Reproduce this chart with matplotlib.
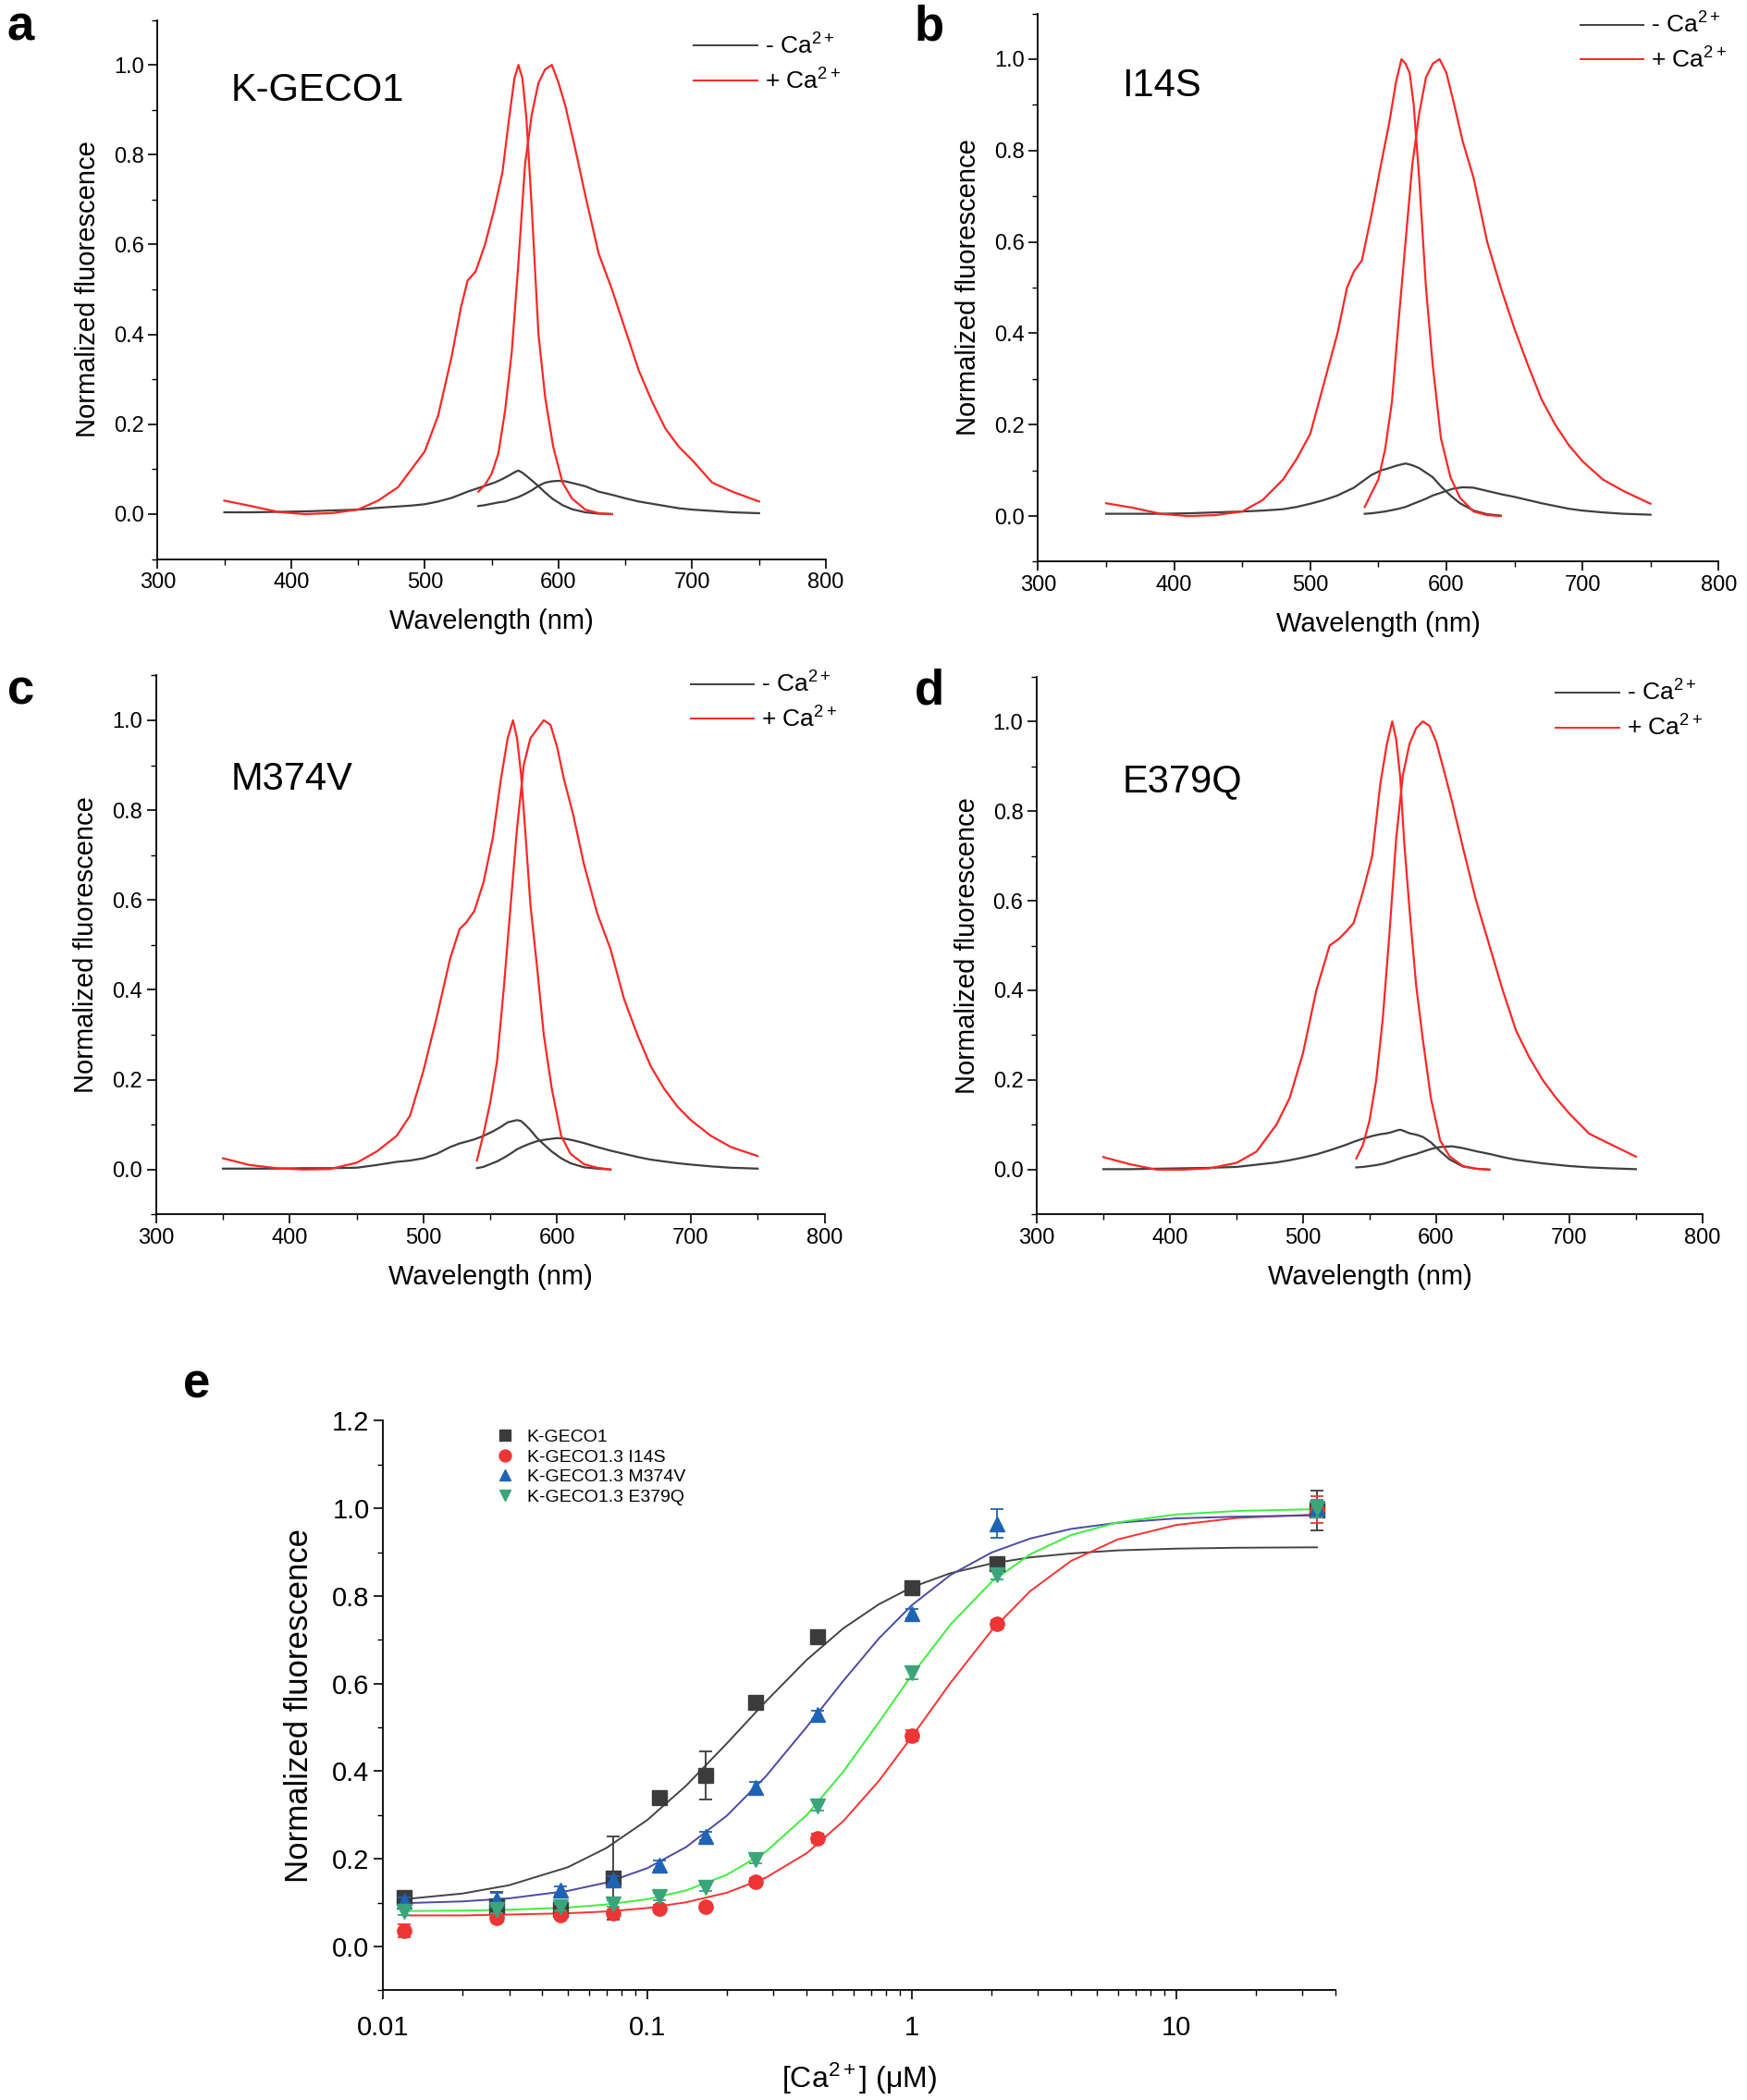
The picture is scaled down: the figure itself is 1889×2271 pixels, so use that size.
import matplotlib
matplotlib.use("Agg")
import matplotlib.pyplot as plt
from matplotlib.lines import Line2D
from matplotlib.ticker import MultipleLocator, LogLocator, NullFormatter, FixedLocator, FixedFormatter

plt.rcParams["font.family"] = ["Liberation Sans", "DejaVu Sans"]
plt.rcParams["mathtext.fontset"] = "custom"
plt.rcParams["mathtext.rm"] = "Liberation Sans"
plt.rcParams["mathtext.it"] = "Liberation Sans:italic"

# ---- spectra (a-d): excitation and emission scans ----
EX_NM = [350, 370, 390, 410, 430, 450, 465, 480, 490, 500, 510, 520, 527, 532, 538,
         545, 552, 558, 563, 567, 570, 573, 576, 580, 585, 590, 596, 603, 610, 620, 630, 640]
EM_NM = [540, 545, 550, 555, 560, 565, 570, 575, 580, 585, 590, 595, 600, 605, 612,
         620, 630, 640, 650, 660, 670, 680, 690, 700, 715, 730, 750]

# K-GECO1
a_red_ex = [0.03, 0.018, 0.005, 0.0, 0.002, 0.01, 0.03, 0.06, 0.1, 0.14, 0.22, 0.35, 0.46, 0.52, 0.54,
            0.6, 0.68, 0.76, 0.88, 0.97, 1.0, 0.97, 0.88, 0.68, 0.4, 0.26, 0.15, 0.07, 0.035, 0.01, 0.002, 0.0]
a_red_em = [0.05, 0.065, 0.09, 0.135, 0.23, 0.36, 0.56, 0.78, 0.89, 0.96, 0.99, 1.0, 0.96, 0.91, 0.82,
            0.71, 0.58, 0.5, 0.41, 0.32, 0.25, 0.19, 0.15, 0.12, 0.07, 0.05, 0.028]
a_grey_ex = [0.004, 0.004, 0.005, 0.006, 0.008, 0.01, 0.014, 0.017, 0.019, 0.022, 0.028, 0.036, 0.044, 0.05, 0.056,
             0.063, 0.07, 0.078, 0.086, 0.093, 0.097, 0.092, 0.085, 0.075, 0.062, 0.048, 0.033, 0.02, 0.011, 0.004, 0.001, 0.0]
a_grey_em = [0.018, 0.02, 0.023, 0.026, 0.028, 0.033, 0.038, 0.045, 0.053, 0.063, 0.07, 0.073, 0.074, 0.073, 0.068,
             0.062, 0.05, 0.043, 0.035, 0.028, 0.023, 0.018, 0.013, 0.01, 0.007, 0.004, 0.002]

# I14S
b_red_ex = [0.028, 0.018, 0.005, 0.0, 0.002, 0.01, 0.035, 0.08, 0.125, 0.18, 0.29, 0.4, 0.5, 0.535, 0.56,
            0.66, 0.77, 0.86, 0.95, 1.0, 0.99, 0.97, 0.9, 0.74, 0.5, 0.33, 0.17, 0.085, 0.04, 0.01, 0.002, 0.0]
b_red_em = [0.02, 0.05, 0.08, 0.146, 0.25, 0.43, 0.6, 0.77, 0.88, 0.96, 0.99, 1.0, 0.97, 0.91, 0.82,
            0.74, 0.6, 0.5, 0.41, 0.33, 0.255, 0.2, 0.155, 0.12, 0.08, 0.055, 0.027]
b_grey_ex = [0.005, 0.005, 0.005, 0.006, 0.008, 0.01, 0.012, 0.015, 0.02, 0.027, 0.035, 0.045, 0.055, 0.062, 0.075,
             0.09, 0.1, 0.105, 0.11, 0.113, 0.115, 0.113, 0.11, 0.105, 0.095, 0.085, 0.065, 0.045, 0.028, 0.012, 0.004, 0.001]
b_grey_em = [0.005, 0.006, 0.008, 0.01, 0.013, 0.016, 0.02, 0.026, 0.032, 0.038, 0.045, 0.05, 0.055, 0.06, 0.063,
             0.062, 0.055, 0.048, 0.042, 0.035, 0.028, 0.022, 0.016, 0.012, 0.008, 0.005, 0.003]

# M374V
c_red_ex = [0.025, 0.01, 0.003, 0.0, 0.001, 0.015, 0.04, 0.075, 0.12, 0.22, 0.34, 0.47, 0.535, 0.55, 0.575,
            0.64, 0.74, 0.87, 0.96, 1.0, 0.96, 0.88, 0.76, 0.59, 0.45, 0.3, 0.18, 0.075, 0.035, 0.012, 0.004, 0.0]
c_red_em = [0.02, 0.08, 0.15, 0.24, 0.4, 0.58, 0.76, 0.9, 0.96, 0.98, 1.0, 0.99, 0.94, 0.87, 0.79,
            0.68, 0.57, 0.49, 0.38, 0.3, 0.23, 0.18, 0.14, 0.11, 0.075, 0.05, 0.03]
c_grey_ex = [0.002, 0.002, 0.002, 0.003, 0.003, 0.004, 0.01, 0.017, 0.02, 0.025, 0.035, 0.05, 0.058, 0.062, 0.067,
             0.075, 0.085, 0.095, 0.105, 0.108, 0.11, 0.108, 0.1, 0.088, 0.07, 0.056, 0.04, 0.025, 0.014, 0.005, 0.002, 0.0]
c_grey_em = [0.003, 0.006, 0.012, 0.018, 0.026, 0.035, 0.045, 0.052, 0.058, 0.063, 0.066, 0.068, 0.07, 0.069, 0.065,
             0.059, 0.05, 0.042, 0.035, 0.028, 0.022, 0.018, 0.014, 0.011, 0.007, 0.004, 0.002]

# E379Q
d_red_ex = [0.028, 0.012, 0.0, 0.0, 0.003, 0.015, 0.04, 0.1, 0.16, 0.26, 0.4, 0.5, 0.515, 0.53, 0.55,
            0.62, 0.7, 0.86, 0.95, 1.0, 0.96, 0.875, 0.73, 0.58, 0.41, 0.29, 0.16, 0.065, 0.03, 0.008, 0.002, 0.0]
d_red_em = [0.025, 0.055, 0.11, 0.2, 0.34, 0.53, 0.74, 0.88, 0.95, 0.985, 1.0, 0.99, 0.955, 0.9, 0.82,
            0.72, 0.6, 0.5, 0.4, 0.31, 0.25, 0.2, 0.16, 0.125, 0.08, 0.058, 0.029]
d_grey_ex = [0.001, 0.001, 0.002, 0.003, 0.004, 0.006, 0.011, 0.016, 0.021, 0.027, 0.034, 0.043, 0.05, 0.055, 0.062,
             0.069, 0.075, 0.079, 0.081, 0.084, 0.087, 0.089, 0.086, 0.081, 0.078, 0.073, 0.061, 0.041, 0.023, 0.007, 0.002, 0.0]
d_grey_em = [0.005, 0.006, 0.008, 0.01, 0.013, 0.017, 0.022, 0.027, 0.031, 0.035, 0.04, 0.045, 0.049, 0.051, 0.052,
             0.048, 0.041, 0.035, 0.028, 0.022, 0.018, 0.014, 0.011, 0.008, 0.005, 0.003, 0.001]

PANEL_NAMES = ["K-GECO1", "I14S", "M374V", "E379Q"]

# ---- Ca2+ titration (e) ----
CA_UM = [0.012, 0.027, 0.047, 0.074, 0.111, 0.166, 0.257, 0.44, 1.0, 2.09, 34.0]
kgeco1_y = [0.112, 0.094, 0.085, 0.156, 0.34, 0.39, 0.558, 0.706, 0.819, 0.874, 0.995]
kgeco1_err = [0.012, 0.03, 0.01, 0.095, 0.012, 0.055, 0.012, 0.015, 0.012, 0.012, 0.045]
i14s_y = [0.036, 0.066, 0.071, 0.077, 0.087, 0.09, 0.148, 0.247, 0.481, 0.736, 0.997]
i14s_err = [0.015, 0.008, 0.008, 0.008, 0.008, 0.008, 0.008, 0.01, 0.012, 0.01, 0.03]
m374v_y = [0.103, 0.108, 0.128, 0.151, 0.186, 0.252, 0.364, 0.529, 0.76, 0.965, 1.0]
m374v_err = [0.01, 0.015, 0.01, 0.01, 0.01, 0.01, 0.012, 0.01, 0.01, 0.033, 0.02]
e379q_y = [0.08, 0.084, 0.09, 0.098, 0.114, 0.135, 0.199, 0.321, 0.624, 0.848, 1.0]
e379q_err = [0.008, 0.008, 0.008, 0.008, 0.008, 0.008, 0.008, 0.01, 0.015, 0.01, 0.02]

# fitted curves
FIT_UM = [0.012, 0.02, 0.03, 0.05, 0.07, 0.1, 0.14, 0.2, 0.28, 0.4, 0.55, 0.75, 1.0, 1.4,
          2.0, 2.8, 4.0, 6.0, 10, 17, 34]
kgeco1_fit = [0.108, 0.121, 0.140, 0.181, 0.225, 0.289, 0.367, 0.464, 0.559, 0.654, 0.726, 0.781,
              0.820, 0.852, 0.874, 0.888, 0.897, 0.904, 0.908, 0.910, 0.911]
i14s_fit = [0.071, 0.071, 0.073, 0.076, 0.080, 0.088, 0.101, 0.123, 0.157, 0.213, 0.286, 0.378,
            0.479, 0.602, 0.721, 0.811, 0.880, 0.929, 0.962, 0.978, 0.986]
m374v_fit = [0.099, 0.103, 0.110, 0.127, 0.146, 0.179, 0.227, 0.299, 0.388, 0.501, 0.606, 0.703,
             0.779, 0.848, 0.899, 0.931, 0.953, 0.967, 0.977, 0.981, 0.984]
e379q_fit = [0.081, 0.082, 0.084, 0.089, 0.096, 0.108, 0.128, 0.164, 0.216, 0.300, 0.399, 0.512,
             0.620, 0.735, 0.832, 0.895, 0.939, 0.968, 0.986, 0.994, 0.998]

SERIES_LABELS = ["K-GECO1", "K-GECO1.3 I14S", "K-GECO1.3 M374V", "K-GECO1.3 E379Q"]

GREY = "#3f3f3f"
RED = "#ff2626"


def style_axes(ax, tick_size):
    for s in ["top", "right"]:
        ax.spines[s].set_visible(False)
    for s in ["left", "bottom"]:
        ax.spines[s].set_linewidth(1.3)
    ax.tick_params(which="major", direction="out", length=7, width=1.2, labelsize=tick_size)
    ax.tick_params(which="minor", direction="out", length=4, width=1.0)


fig = plt.figure(figsize=(18.9, 22.71), dpi=100)

boxes = [
    [0.0901, 0.7338, 0.3824, 0.2567],
    [0.5939, 0.7325, 0.3893, 0.2611],
    [0.0893, 0.4217, 0.3824, 0.2567],
    [0.5931, 0.4217, 0.3809, 0.2561],
]
letters = [("a", 0.004, 0.987), ("b", 0.523, 0.987), ("c", 0.004, 0.6707), ("d", 0.523, 0.6707)]
name_pos = [(0.132, 0.957), (0.642, 0.959), (0.132, 0.629), (0.642, 0.628)]
legend_pos = [(0.397, 0.984), (0.904, 0.994), (0.395, 0.680), (0.890, 0.676)]
spectra = [
    (a_red_ex, a_red_em, a_grey_ex, a_grey_em),
    (b_red_ex, b_red_em, b_grey_ex, b_grey_em),
    (c_red_ex, c_red_em, c_grey_ex, c_grey_em),
    (d_red_ex, d_red_em, d_grey_ex, d_grey_em),
]

for i in range(4):
    ax = fig.add_axes(boxes[i])
    red_ex, red_em, grey_ex, grey_em = spectra[i]
    ax.plot(EX_NM, grey_ex, color=GREY, lw=1.6)
    ax.plot(EM_NM, grey_em, color=GREY, lw=1.6)
    ax.plot(EX_NM, red_ex, color=RED, lw=1.6)
    ax.plot(EM_NM, red_em, color=RED, lw=1.6)
    ax.set_xlim(300, 800)
    ax.set_ylim(-0.1, 1.1)
    ax.xaxis.set_major_locator(MultipleLocator(100))
    ax.xaxis.set_minor_locator(MultipleLocator(50))
    ax.yaxis.set_major_locator(FixedLocator([0, 0.2, 0.4, 0.6, 0.8, 1.0]))
    ax.yaxis.set_major_formatter(FixedFormatter(["0.0", "0.2", "0.4", "0.6", "0.8", "1.0"]))
    ax.yaxis.set_minor_locator(FixedLocator([-0.1, 0.1, 0.3, 0.5, 0.7, 0.9, 1.1]))
    style_axes(ax, 17)
    ax.set_xlabel("Wavelength (nm)", fontsize=21, labelpad=12)
    ax.set_ylabel("Normalized fluorescence", fontsize=21, labelpad=10)

    handles = [Line2D([], [], color=GREY, lw=1.4), Line2D([], [], color=RED, lw=1.4)]
    ax.legend(handles, [r"- Ca$^{2+}$", r"+ Ca$^{2+}$"], loc="upper left",
              bbox_to_anchor=legend_pos[i], bbox_transform=fig.transFigure,
              frameon=False, fontsize=19, handlelength=2.6, handletextpad=0.3,
              labelspacing=0.4, borderpad=0, borderaxespad=0)

    fig.text(name_pos[i][0], name_pos[i][1], PANEL_NAMES[i], fontsize=30, va="center", ha="left")
    fig.text(letters[i][1], letters[i][2], letters[i][0], fontsize=38, fontweight="bold",
             va="center", ha="left")

# ---- panel e ----
axe = fig.add_axes([0.2191, 0.0522, 0.545, 0.2713])
marker_style = [
    ("s", "#3c3c3c", "#3c3c3c", "#444444"),
    ("o", "#ee3535", "#ee3535", "#ff3030"),
    ("^", "#1f63b5", "#1f63b5", "#4a4aa8"),
    ("v", "#3aa57a", "#3aa57a", "#3cf03c"),
]
ys = [kgeco1_y, i14s_y, m374v_y, e379q_y]
errs = [kgeco1_err, i14s_err, m374v_err, e379q_err]
fits = [kgeco1_fit, i14s_fit, m374v_fit, e379q_fit]

for k in range(4):
    mk, fc, ec, lc = marker_style[k]
    axe.plot(FIT_UM, fits[k], color=lc, lw=1.4, zorder=2)
for k in range(4):
    mk, fc, ec, lc = marker_style[k]
    axe.errorbar(CA_UM, ys[k], yerr=errs[k], fmt=mk, ms=11, mfc=fc, mec=ec,
                 ecolor=ec, elinewidth=1.3, capsize=5, capthick=1.3,
                 label=SERIES_LABELS[k], zorder=3 + k)

axe.set_xscale("log")
axe.set_xlim(0.01, 40)
axe.set_ylim(-0.1, 1.2)
axe.xaxis.set_major_locator(FixedLocator([0.01, 0.1, 1, 10]))
axe.xaxis.set_major_formatter(FixedFormatter(["0.01", "0.1", "1", "10"]))
axe.xaxis.set_minor_locator(LogLocator(base=10, subs=range(2, 10)))
axe.xaxis.set_minor_formatter(NullFormatter())
axe.yaxis.set_major_locator(FixedLocator([0, 0.2, 0.4, 0.6, 0.8, 1.0, 1.2]))
axe.yaxis.set_major_formatter(FixedFormatter(["0.0", "0.2", "0.4", "0.6", "0.8", "1.0", "1.2"]))
axe.yaxis.set_minor_locator(FixedLocator([-0.1, 0.1, 0.3, 0.5, 0.7, 0.9, 1.1]))
style_axes(axe, 21)
axe.tick_params(axis="x", which="major", pad=12)
axe.set_xlabel(r"[Ca$^{2+}$] (μM)", fontsize=23, labelpad=16)
axe.set_ylabel("Normalized fluorescence", fontsize=25, labelpad=14)

hs, ls = axe.get_legend_handles_labels()
hs = [h[0] for h in hs]
axe.legend(hs, ls, loc="upper left", bbox_to_anchor=(0.284, 0.3195),
           bbox_transform=fig.transFigure, frameon=False, fontsize=14,
           handlelength=1.0, handletextpad=0.7, labelspacing=0.2,
           borderpad=0, borderaxespad=0, markerscale=0.85)
fig.text(0.1046, 0.3408, "e", fontsize=38, fontweight="bold", va="center", ha="left")

fig.savefig("out.png", dpi=100)
